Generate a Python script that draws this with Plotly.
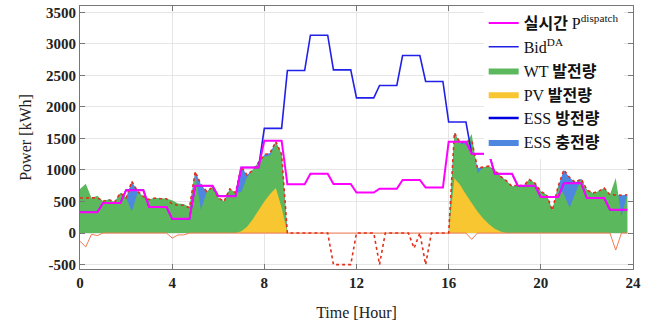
import numpy as np
import plotly.graph_objects as go

# hourly values
P_DISPATCH = [330, 475, 680, 415, 225, 750, 585, 1040, 1465, 775, 940, 778,
              643, 702, 843, 722, 1448, 1257, 940, 750, 570, 790, 555, 370]
BID_DA = [330, 475, 680, 415, 225, 750, 585, 1040, 1660, 2577, 3137, 2588,
          2144, 2340, 2815, 2403, 1760, 1257, 940, 750, 570, 790, 555, 370]

# 15-minute values
WT = [697, 780, 555, 590, 505, 530, 490, 635, 560, 340, 640, 580, 530, 555, 545, 545,
      520, 470, 460, 410, 920, 370, 650, 730, 560, 500, 700, 640, 650, 880, 1000, 1130,
      1210, 1230, 1430, 1250] + [0] * 28 + \
     [0, 1580, 1420, 1400, 1570, 950, 1040, 1060, 1000, 900, 830, 740, 765, 745, 850, 790,
      660, 607, 360, 740, 620, 400, 640, 860, 686, 634, 660, 713, 607, 872, 264, 607]
PV = [0] * 28 + [30, 100, 220, 370, 500, 620, 715, 400] + [0] * 28 + \
     [0, 870, 760, 610, 470, 340, 230, 140, 70, 25, 0, 0] + [0] * 20
NET = [555, 555, 550, 560, 505, 530, 490, 635, 560, 820, 660, 580, 530, 555, 545, 545,
       460, 440, 440, 400, 975, 770, 660, 730, 560, 500, 700, 640, 1050, 920, 1000, 1130,
       1240, 1270, 1450, 1250,
       0, 0, 0, 0, 0, 0, 0, 0, -500, -500, -500, -500, 0, 0, 0, 0,
       -500, 0, 0, 0, 0, 0, -240, 0, -500, 0, 0, 0,
       0, 1590, 1430, 1450, 1470, 1030, 1050, 1060, 1000, 900, 830, 740, 765, 745, 850, 790,
       660, 607, 360, 740, 1000, 880, 800, 860, 686, 634, 660, 713, 607, 600, 600, 607]
ESS_CH = [-130, -220, -20, -40] + [0] * 12 + [-80, -30, -30, 0] + [0] * 48 + \
         [-100, 0, 0, 0] + [0] * 20 + [0, -270, 0, 0]

X_TICKS = [0, 4, 8, 12, 16, 20, 24]
Y_TICKS = [-500, 0, 500, 1000, 1500, 2000, 2500, 3000, 3500]

t = np.arange(96) * 0.25
pdis = np.repeat(P_DISPATCH, 4)
bid = np.repeat(BID_DA, 4)
net = np.array(NET, dtype=float)

FONT = "Liberation Serif, Times New Roman, Noto Sans CJK KR"

fig = go.Figure()
fig.add_trace(go.Scatter(x=t, y=np.clip(net, 0, None), mode="lines", fill="tozeroy",
                         line=dict(width=0, color="#4D87E0"), fillcolor="#4D87E0",
                         name="ESS <b>충전량</b>", legendrank=6))
fig.add_trace(go.Scatter(x=t, y=WT, mode="lines", fill="tozeroy",
                         line=dict(width=0, color="#5cb85c"), fillcolor="#5cb85c",
                         name="WT <b>발전량</b>", legendrank=3))
fig.add_trace(go.Scatter(x=t, y=PV, mode="lines", fill="tozeroy",
                         line=dict(width=0, color="#F7C631"), fillcolor="#F7C631",
                         name="PV <b>발전량</b>", legendrank=4))
fig.add_trace(go.Scatter(x=t, y=ESS_CH, mode="lines", line=dict(width=1, color="#F47A50"),
                         showlegend=False))
fig.add_trace(go.Scatter(x=t, y=net, mode="lines",
                         line=dict(width=1.6, color="#E0301C", dash="dot"), showlegend=False))
fig.add_trace(go.Scatter(x=t, y=bid, mode="lines", line=dict(width=1.6, color="#2020E8"),
                         name="Bid<sup>DA</sup>", legendrank=2))
fig.add_trace(go.Scatter(x=t, y=pdis, mode="lines", line=dict(width=2, color="#FF00FF"),
                         name="<b>실시간</b> P<sup>dispatch</sup>", legendrank=1))
fig.add_trace(go.Scatter(x=[None], y=[None], mode="lines", line=dict(width=2.5, color="#0000E0"),
                         name="ESS <b>방전량</b>", legendrank=5))

axis_common = dict(showline=True, linecolor="#777777", linewidth=1, mirror="ticks",
                   ticks="inside", ticklen=5, tickcolor="#777777", showgrid=True,
                   gridcolor="#E6E6E6", gridwidth=1, zeroline=False, automargin=False,
                   ticklabeloverflow="allow",
                   tickfont=dict(family=FONT, size=15, color="#222222"))

fig.update_xaxes(range=[0, 24], tickvals=X_TICKS, ticktext=[f"<b>{v}</b>" for v in X_TICKS],
                 title=dict(text="Time [Hour]", font=dict(family=FONT, size=16, color="#222"),
                            standoff=16), **axis_common)
fig.update_yaxes(range=[-570, 3600], tickvals=Y_TICKS, ticktext=[f"<b>{v}</b>" for v in Y_TICKS],
                 title=dict(text="Power [kWh]", font=dict(family=FONT, size=16, color="#222"),
                            standoff=10), **axis_common)

fig.update_layout(
    width=663, height=325,
    margin=dict(l=80, r=30, t=6, b=56),
    plot_bgcolor="white", paper_bgcolor="white",
    font=dict(family=FONT, size=15, color="#111111"),
    showlegend=True,
    legend=dict(x=0.73, y=1.0, xanchor="left", yanchor="top", bgcolor="rgba(255,255,255,1)",
                borderwidth=0, font=dict(family=FONT, size=16, color="#111"),
                itemwidth=30, tracegroupgap=0, traceorder="normal"),
)

fig.write_html("out.html", config={"displayModeBar": False},
               post_script="document.body.style.margin='0';document.body.style.padding='0';")
